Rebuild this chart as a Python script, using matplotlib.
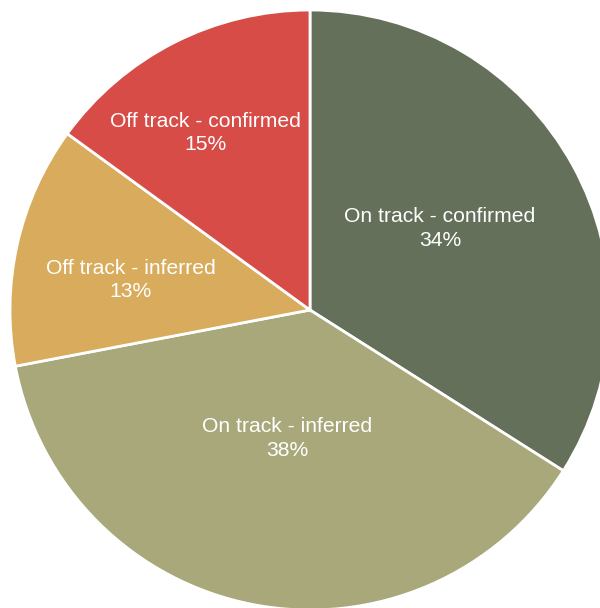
import matplotlib.pyplot as plt

labels = ['On track - confirmed', 'On track - inferred',
          'Off track - inferred', 'Off track - confirmed']
shares = [34, 38, 13, 15]
colors = ['#64705A', '#A9A87B', '#D9AC5D', '#D84C48']

# label centres, in units of the pie radius
label_pos = [(0.433, 0.273), (-0.077, -0.427), (-0.597, 0.100), (-0.347, 0.590)]

plt.rcParams['font.family'] = ['Liberation Sans', 'DejaVu Sans']

fig = plt.figure(figsize=(6.0, 6.08), dpi=100)
ax = fig.add_axes([0, 0, 1, 1])
R = 300
wedges, _ = ax.pie(shares, colors=colors, startangle=90, counterclock=False,
                   radius=R, center=(0, 0),
                   wedgeprops=dict(edgecolor='white', linewidth=2.0))

for lab, val, (px, py) in zip(labels, shares, label_pos):
    ax.text(px * R, py * R, f'{lab}\n{val}%',
            ha='center', va='center', color='white', fontsize=15.2,
            linespacing=1.32)

ax.set_xlim(-310, 290)
ax.set_ylim(-298, 310)
ax.set_aspect('equal')
ax.axis('off')

fig.savefig('out.png', dpi=100)
